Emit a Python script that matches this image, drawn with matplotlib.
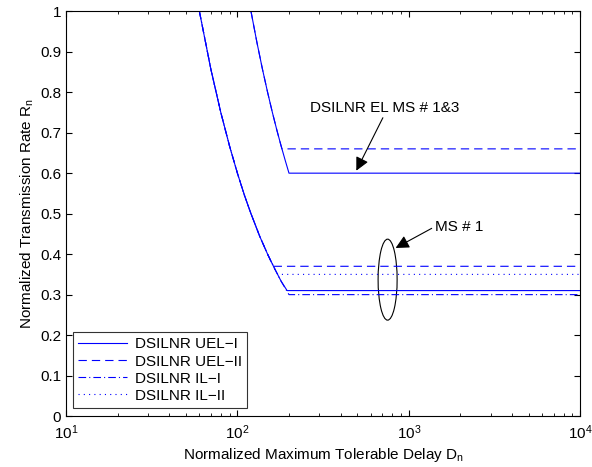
import numpy as np
import matplotlib
matplotlib.use('Agg')
import matplotlib.pyplot as plt
from matplotlib.patches import Ellipse
from matplotlib.lines import Line2D

plt.rcParams['font.family'] = ['Liberation Sans', 'DejaVu Sans']
plt.rcParams['mathtext.fontset'] = 'custom'
plt.rcParams['mathtext.rm'] = 'Liberation Sans'
plt.rcParams['mathtext.it'] = 'Liberation Sans'
plt.rcParams['lines.scale_dashes'] = False

# decreasing part (MS # 1)
d_low = [60, 70, 80, 90, 100, 110, 120, 135, 150, 165, 180, 200]
r_low = [1.0, 0.857, 0.75, 0.667, 0.6, 0.545, 0.5, 0.444, 0.4, 0.364, 0.333, 0.30]

# decreasing part (MS # 1&3)
d_high = [120, 130, 140, 150, 160, 170, 180, 190, 200]
r_high = [1.0, 0.923, 0.857, 0.8, 0.75, 0.706, 0.667, 0.632, 0.60]

d_end = 1e4

# plateau levels and where they start
names = ['DSILNR UEL\u2212I', 'DSILNR UEL\u2212II', 'DSILNR IL\u2212I', 'DSILNR IL\u2212II']
lvl_ms1 = [0.31, 0.37, 0.30, 0.35]
start_ms1 = [195, 162, 200, 172]
lvl_ms13 = [0.60, 0.66]
start_ms13 = [200, 182]

styles = ['-', (0, (6, 3.6)), (0, (5.5, 2.2, 0.8, 2.2)), (0, (0.8, 3))]
fs = 11


def build(d, r, lvl, d0):
    xs = [a for a, b in zip(d, r) if b > lvl] + [d0, d_end]
    ys = [b for b in r if b > lvl] + [lvl, lvl]
    return xs, ys


fig = plt.figure(figsize=(5.92, 4.67), dpi=100)
ax = fig.add_axes([0.1115, 0.109, 0.8685, 0.867])

order = [1, 3, 2, 0]  # solid on top
for i in order:
    x, y = build(d_low, r_low, lvl_ms1[i], start_ms1[i])
    ax.plot(x, y, color='b', lw=0.8, linestyle=styles[i])
for i in [1, 0]:
    x, y = build(d_high, r_high, lvl_ms13[i], start_ms13[i])
    ax.plot(x, y, color='b', lw=0.8, linestyle=styles[i])

ax.set_xscale('log')
ax.set_xlim(10, 1e4)
ax.set_ylim(0, 1)
ax.set_yticks(np.arange(0, 1.01, 0.1))
ax.set_yticklabels(['0', '0.1', '0.2', '0.3', '0.4', '0.5', '0.6', '0.7', '0.8', '0.9', '1'])
ax.tick_params(which='both', direction='in', top=True, right=True, labelsize=fs)
ax.tick_params(which='major', length=4)
ax.tick_params(which='minor', length=2)
ax.tick_params(axis='x', which='both', pad=5)

ax.set_xlabel('Normalized Maximum Tolerable Delay D$_\\mathregular{n}$', fontsize=fs, labelpad=3)
ax.set_ylabel('Normalized Transmission Rate R$_\\mathregular{n}$', fontsize=fs, labelpad=3)

# annotations
ax.text(723, 0.76, 'DSILNR EL MS # 1&3', fontsize=fs, ha='center', va='center')
ax.annotate('', xy=(486, 0.60), xytext=(718, 0.743),
            arrowprops=dict(arrowstyle='-|>', color='k', lw=0.8, mutation_scale=20))
ax.text(1420, 0.467, 'MS # 1', fontsize=fs, ha='left', va='center')
ax.annotate('', xy=(811, 0.412), xytext=(1406, 0.467),
            arrowprops=dict(arrowstyle='-|>', color='k', lw=0.8, mutation_scale=20))
ax.add_patch(Ellipse((0.6255, 0.337), 0.037, 0.2, transform=ax.transAxes,
                     fill=False, ec='k', lw=0.8))

handles = [Line2D([], [], color='b', lw=0.8, linestyle=s) for s in styles]
leg = ax.legend(handles, names, loc='lower left', bbox_to_anchor=(0.013, 0.02),
                fontsize=fs, frameon=True, fancybox=False, handlelength=3.2,
                handletextpad=0.5, borderaxespad=0, labelspacing=0.2, borderpad=0.35)
leg.get_frame().set_edgecolor('k')
leg.get_frame().set_linewidth(0.8)

fig.savefig('out.png', dpi=100)
